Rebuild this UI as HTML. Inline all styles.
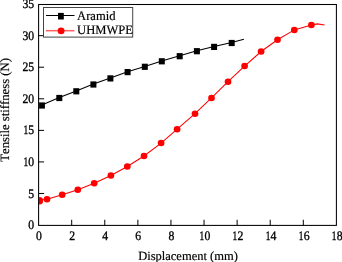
<!DOCTYPE html><html><head><meta charset="utf-8"><style>html,body{margin:0;padding:0;background:#fff;}svg{display:block;}text{text-rendering:geometricPrecision;font-family:"Liberation Serif",serif;fill:#000;}</style></head><body>
<svg width="342" height="262" viewBox="0 0 342 262">
<rect width="342" height="262" fill="#fff"/>
<defs><clipPath id="c"><rect x="39.1" y="4.095000000000027" width="297.29200000000003" height="220.95499999999998"/></clipPath></defs>
<g clip-path="url(#c)">
<polyline points="41.9,105.1 59.3,97.6 76.3,90.9 93.4,84.1 110.4,78.0 127.6,71.7 144.8,66.4 161.8,60.9 179.7,55.8 196.9,50.8 214.1,46.5 231.7,42.6 243.9,39.3" fill="none" stroke="#000" stroke-width="1.05"/>
<rect x="38.9" y="102.4" width="6" height="6.2" fill="#000"/>
<rect x="56.3" y="94.9" width="6" height="6.2" fill="#000"/>
<rect x="73.3" y="88.2" width="6" height="6.2" fill="#000"/>
<rect x="90.4" y="81.4" width="6" height="6.2" fill="#000"/>
<rect x="107.4" y="75.3" width="6" height="6.2" fill="#000"/>
<rect x="124.6" y="69.0" width="6" height="6.2" fill="#000"/>
<rect x="141.8" y="63.7" width="6" height="6.2" fill="#000"/>
<rect x="158.8" y="58.2" width="6" height="6.2" fill="#000"/>
<rect x="176.7" y="53.1" width="6" height="6.2" fill="#000"/>
<rect x="193.9" y="48.1" width="6" height="6.2" fill="#000"/>
<rect x="211.1" y="43.8" width="6" height="6.2" fill="#000"/>
<rect x="228.7" y="39.9" width="6" height="6.2" fill="#000"/>
<polyline points="39.6,201.2 39.6,200.2 47.0,199.3 62.2,194.7 77.8,189.7 94.2,183.3 110.9,175.5 127.3,166.5 144.0,156.0 161.1,143.1 177.1,129.2 195.0,113.7 211.5,97.9 228.0,81.7 244.6,66.1 261.1,51.5 277.5,39.8 294.3,29.9 311.4,24.9 317.5,23.9 324.6,24.9" fill="none" stroke="#f00" stroke-width="1.05"/>
<ellipse cx="39.6" cy="201.2" rx="3.35" ry="3.25" fill="#f00"/>
<ellipse cx="39.6" cy="200.2" rx="3.35" ry="3.25" fill="#f00"/>
<ellipse cx="47.0" cy="199.3" rx="3.35" ry="3.25" fill="#f00"/>
<ellipse cx="62.2" cy="194.7" rx="3.35" ry="3.25" fill="#f00"/>
<ellipse cx="77.8" cy="189.7" rx="3.35" ry="3.25" fill="#f00"/>
<ellipse cx="94.2" cy="183.3" rx="3.35" ry="3.25" fill="#f00"/>
<ellipse cx="110.9" cy="175.5" rx="3.35" ry="3.25" fill="#f00"/>
<ellipse cx="127.3" cy="166.5" rx="3.35" ry="3.25" fill="#f00"/>
<ellipse cx="144.0" cy="156.0" rx="3.35" ry="3.25" fill="#f00"/>
<ellipse cx="161.1" cy="143.1" rx="3.35" ry="3.25" fill="#f00"/>
<ellipse cx="177.1" cy="129.2" rx="3.35" ry="3.25" fill="#f00"/>
<ellipse cx="195.0" cy="113.7" rx="3.35" ry="3.25" fill="#f00"/>
<ellipse cx="211.5" cy="97.9" rx="3.35" ry="3.25" fill="#f00"/>
<ellipse cx="228.0" cy="81.7" rx="3.35" ry="3.25" fill="#f00"/>
<ellipse cx="244.6" cy="66.1" rx="3.35" ry="3.25" fill="#f00"/>
<ellipse cx="261.1" cy="51.5" rx="3.35" ry="3.25" fill="#f00"/>
<ellipse cx="277.5" cy="39.8" rx="3.35" ry="3.25" fill="#f00"/>
<ellipse cx="294.3" cy="29.9" rx="3.35" ry="3.25" fill="#f00"/>
<ellipse cx="311.4" cy="24.9" rx="3.35" ry="3.25" fill="#f00"/>
</g>
<line x1="71.69" y1="225.4" x2="71.69" y2="219.75" stroke="#000" stroke-width="1"/>
<line x1="104.78" y1="225.4" x2="104.78" y2="219.75" stroke="#000" stroke-width="1"/>
<line x1="137.86" y1="225.4" x2="137.86" y2="219.75" stroke="#000" stroke-width="1"/>
<line x1="170.95" y1="225.4" x2="170.95" y2="219.75" stroke="#000" stroke-width="1"/>
<line x1="204.04" y1="225.4" x2="204.04" y2="219.75" stroke="#000" stroke-width="1"/>
<line x1="237.13" y1="225.4" x2="237.13" y2="219.75" stroke="#000" stroke-width="1"/>
<line x1="270.22" y1="225.4" x2="270.22" y2="219.75" stroke="#000" stroke-width="1"/>
<line x1="303.30" y1="225.4" x2="303.30" y2="219.75" stroke="#000" stroke-width="1"/>
<line x1="38.6" y1="193.49" x2="44.1" y2="193.49" stroke="#000" stroke-width="1"/>
<line x1="38.6" y1="161.92" x2="44.1" y2="161.92" stroke="#000" stroke-width="1"/>
<line x1="38.6" y1="130.36" x2="44.1" y2="130.36" stroke="#000" stroke-width="1"/>
<line x1="38.6" y1="98.79" x2="44.1" y2="98.79" stroke="#000" stroke-width="1"/>
<line x1="38.6" y1="67.23" x2="44.1" y2="67.23" stroke="#000" stroke-width="1"/>
<line x1="38.6" y1="35.66" x2="44.1" y2="35.66" stroke="#000" stroke-width="1"/>
<rect x="38.6" y="4.5" width="297.80" height="220.9" fill="none" stroke="#000" stroke-width="1.05"/>
<text transform="translate(39.00,239.80) scale(0.9,1)" x="0" y="0" font-size="13" text-anchor="middle" stroke="#000" stroke-width="0.35">0</text>
<text transform="translate(72.09,239.80) scale(0.9,1)" x="0" y="0" font-size="13" text-anchor="middle" stroke="#000" stroke-width="0.35">2</text>
<text transform="translate(105.18,239.80) scale(0.9,1)" x="0" y="0" font-size="13" text-anchor="middle" stroke="#000" stroke-width="0.35">4</text>
<text transform="translate(138.26,239.80) scale(0.9,1)" x="0" y="0" font-size="13" text-anchor="middle" stroke="#000" stroke-width="0.35">6</text>
<text transform="translate(171.35,239.80) scale(0.9,1)" x="0" y="0" font-size="13" text-anchor="middle" stroke="#000" stroke-width="0.35">8</text>
<text transform="translate(201.82,239.80) scale(0.72,1)" x="0" y="0" font-size="13" text-anchor="middle" stroke="#000" stroke-width="0.35">1</text>
<text transform="translate(207.37,239.80) scale(0.9,1)" x="0" y="0" font-size="13" text-anchor="middle" stroke="#000" stroke-width="0.35">0</text>
<text transform="translate(234.90,239.80) scale(0.72,1)" x="0" y="0" font-size="13" text-anchor="middle" stroke="#000" stroke-width="0.35">1</text>
<text transform="translate(240.45,239.80) scale(0.9,1)" x="0" y="0" font-size="13" text-anchor="middle" stroke="#000" stroke-width="0.35">2</text>
<text transform="translate(267.99,239.80) scale(0.72,1)" x="0" y="0" font-size="13" text-anchor="middle" stroke="#000" stroke-width="0.35">1</text>
<text transform="translate(273.54,239.80) scale(0.9,1)" x="0" y="0" font-size="13" text-anchor="middle" stroke="#000" stroke-width="0.35">4</text>
<text transform="translate(301.08,239.80) scale(0.72,1)" x="0" y="0" font-size="13" text-anchor="middle" stroke="#000" stroke-width="0.35">1</text>
<text transform="translate(306.63,239.80) scale(0.9,1)" x="0" y="0" font-size="13" text-anchor="middle" stroke="#000" stroke-width="0.35">6</text>
<text transform="translate(334.17,239.80) scale(0.72,1)" x="0" y="0" font-size="13" text-anchor="middle" stroke="#000" stroke-width="0.35">1</text>
<text transform="translate(339.72,239.80) scale(0.9,1)" x="0" y="0" font-size="13" text-anchor="middle" stroke="#000" stroke-width="0.35">8</text>
<text transform="translate(31.28,229.15) scale(0.9,1)" x="0" y="0" font-size="13" text-anchor="middle" stroke="#000" stroke-width="0.35">0</text>
<text transform="translate(31.28,197.59) scale(0.9,1)" x="0" y="0" font-size="13" text-anchor="middle" stroke="#000" stroke-width="0.35">5</text>
<text transform="translate(25.73,166.02) scale(0.72,1)" x="0" y="0" font-size="13" text-anchor="middle" stroke="#000" stroke-width="0.35">1</text>
<text transform="translate(31.28,166.02) scale(0.9,1)" x="0" y="0" font-size="13" text-anchor="middle" stroke="#000" stroke-width="0.35">0</text>
<text transform="translate(25.73,134.46) scale(0.72,1)" x="0" y="0" font-size="13" text-anchor="middle" stroke="#000" stroke-width="0.35">1</text>
<text transform="translate(31.28,134.46) scale(0.9,1)" x="0" y="0" font-size="13" text-anchor="middle" stroke="#000" stroke-width="0.35">5</text>
<text transform="translate(25.43,102.89) scale(0.9,1)" x="0" y="0" font-size="13" text-anchor="middle" stroke="#000" stroke-width="0.35">2</text>
<text transform="translate(31.28,102.89) scale(0.9,1)" x="0" y="0" font-size="13" text-anchor="middle" stroke="#000" stroke-width="0.35">0</text>
<text transform="translate(25.43,71.33) scale(0.9,1)" x="0" y="0" font-size="13" text-anchor="middle" stroke="#000" stroke-width="0.35">2</text>
<text transform="translate(31.28,71.33) scale(0.9,1)" x="0" y="0" font-size="13" text-anchor="middle" stroke="#000" stroke-width="0.35">5</text>
<text transform="translate(25.43,39.76) scale(0.9,1)" x="0" y="0" font-size="13" text-anchor="middle" stroke="#000" stroke-width="0.35">3</text>
<text transform="translate(31.28,39.76) scale(0.9,1)" x="0" y="0" font-size="13" text-anchor="middle" stroke="#000" stroke-width="0.35">0</text>
<text transform="translate(25.43,8.20) scale(0.9,1)" x="0" y="0" font-size="13" text-anchor="middle" stroke="#000" stroke-width="0.35">3</text>
<text transform="translate(31.28,8.20) scale(0.9,1)" x="0" y="0" font-size="13" text-anchor="middle" stroke="#000" stroke-width="0.35">5</text>
<text x="188" y="259.5" font-size="12.5" text-anchor="middle" stroke="#000" stroke-width="0.18">Displacement (mm)</text>
<text transform="translate(9.3,109.9) rotate(-90)" x="0" y="0" font-size="12.7" style="font-kerning:none" text-anchor="middle" stroke="#000" stroke-width="0.18">Tensile stiffness (N)</text>
<rect x="43.5" y="7.5" width="89.2" height="29.6" fill="#fff" stroke="#444" stroke-width="1"/>
<line x1="46" y1="15.5" x2="74.5" y2="15.5" stroke="#000" stroke-width="1"/>
<rect x="58" y="12.9" width="5.8" height="6.6" fill="#000"/>
<line x1="46" y1="30.7" x2="74.5" y2="30.7" stroke="#ff6060" stroke-width="1.5"/>
<ellipse cx="61.1" cy="30.9" rx="3.4" ry="3.3" fill="#f00"/>
<text x="77.1" y="19.8" font-size="13" textLength="38.4" lengthAdjust="spacingAndGlyphs" stroke="#000" stroke-width="0.18">Aramid</text>
<text x="77.1" y="34.3" font-size="13" textLength="55.9" lengthAdjust="spacingAndGlyphs" stroke="#000" stroke-width="0.18">UHMWPE</text>
</svg></body></html>
